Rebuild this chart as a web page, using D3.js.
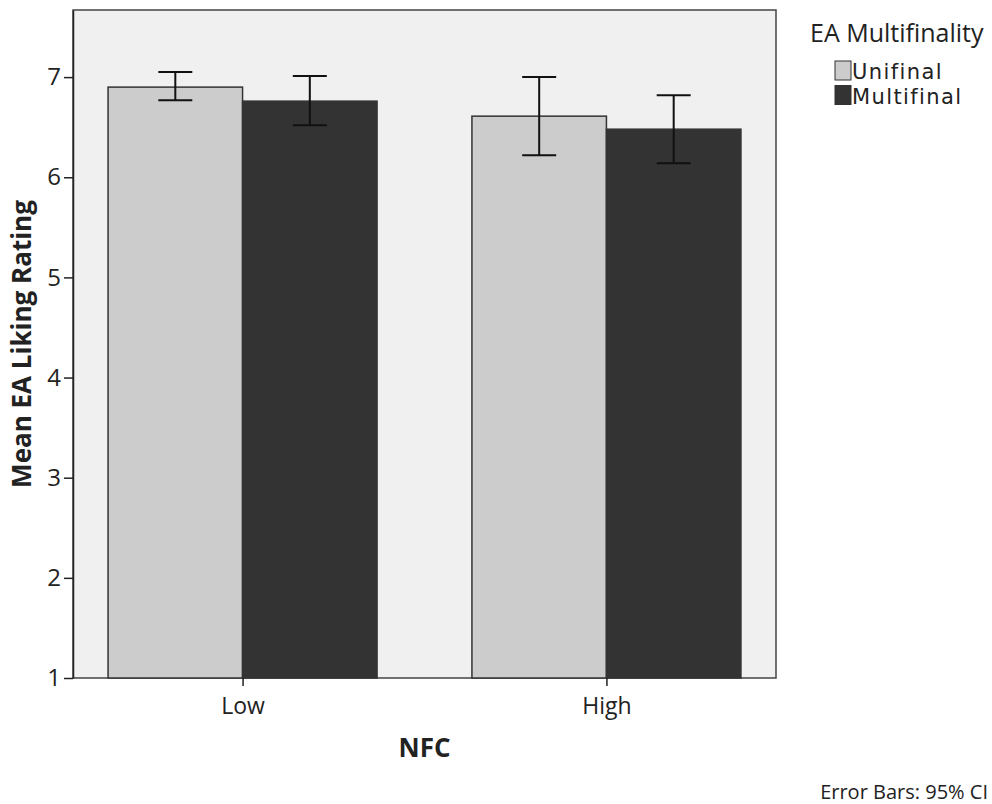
<!DOCTYPE html>
<html>
<head>
<meta charset="utf-8">
<script src="https://cdn.jsdelivr.net/npm/d3@7"></script>
<style>
  body { margin: 0; background: #fff; }
  text { font-family: "Open Sans", "DejaVu Sans", sans-serif; fill: #222; }
</style>
</head>
<body>
<svg id="chart" width="992" height="804"></svg>
<script>
'use strict';

// data
var groups = ['Low', 'High'];
var series = ['Unifinal', 'Multifinal'];
var colors = ['#cccccc', '#333333'];
var means = [[6.90, 6.76], [6.61, 6.48]];
var ciLow = [[6.77, 6.52], [6.22, 6.14]];
var ciHigh = [[7.05, 7.01], [7.00, 6.82]];
var yTicks = [1, 2, 3, 4, 5, 6, 7];

var svg = d3.select('#chart');

var plotL = 73, plotR = 776, plotT = 10, plotB = 678;

var y = d3.scaleLinear()
    .domain([1, 7.67])
    .range([plotB, plotT]);

var x = d3.scalePoint()
    .domain(groups)
    .range([plotL, plotR])
    .padding(0.466);

var barW = 134.5;

// plot background
svg.append('rect')
    .attr('x', plotL)
    .attr('y', plotT)
    .attr('width', plotR - plotL)
    .attr('height', plotB - plotT)
    .attr('fill', '#f0f0f0')
    .attr('stroke', '#444')
    .attr('stroke-width', 1.5);

// bars
var rows = [];
groups.forEach(function(g, gi) {
    series.forEach(function(s, si) {
        rows.push({ g: g, si: si, v: means[gi][si], lo: ciLow[gi][si], hi: ciHigh[gi][si] });
    });
});

svg.selectAll('rect.bar')
    .data(rows)
    .enter()
    .append('rect')
    .attr('class', 'bar')
    .attr('x', function(d) { return x(d.g) + (d.si - 1) * barW; })
    .attr('y', function(d) { return y(d.v); })
    .attr('width', barW)
    .attr('height', function(d) { return y(1) - y(d.v); })
    .attr('fill', function(d) { return colors[d.si]; })
    .attr('stroke', '#333')
    .attr('stroke-width', 1.5);

// error bars
var eb = svg.selectAll('g.err')
    .data(rows)
    .enter()
    .append('g')
    .attr('class', 'err')
    .attr('stroke', '#111')
    .attr('stroke-width', 2)
    .attr('transform', function(d) {
        return 'translate(' + (x(d.g) + (d.si - 0.5) * barW) + ',0)';
    });
eb.append('line')
    .attr('y1', function(d) { return y(d.lo); })
    .attr('y2', function(d) { return y(d.hi); });
eb.append('line')
    .attr('x1', -17).attr('x2', 17)
    .attr('y1', function(d) { return y(d.hi); })
    .attr('y2', function(d) { return y(d.hi); });
eb.append('line')
    .attr('x1', -17).attr('x2', 17)
    .attr('y1', function(d) { return y(d.lo); })
    .attr('y2', function(d) { return y(d.lo); });

// axes
var yAxis = svg.append('g')
    .attr('transform', 'translate(' + plotL + ',0)')
    .call(d3.axisLeft(y).tickValues(yTicks).tickFormat(d3.format('d'))
        .tickSize(9).tickSizeOuter(0).tickPadding(3));
yAxis.select('.domain').attr('stroke', '#222').attr('stroke-width', 1.5);
yAxis.selectAll('.tick line').attr('stroke', '#222').attr('stroke-width', 1.5);
yAxis.selectAll('.tick text').attr('font-size', 24).attr('font-family', '"Open Sans", sans-serif').attr('fill', '#222');

var xAxis = svg.append('g')
    .attr('transform', 'translate(0,' + plotB + ')')
    .call(d3.axisBottom(x).tickSize(8).tickPadding(12));
xAxis.select('.domain').remove();
xAxis.selectAll('.tick line').attr('stroke', '#222').attr('stroke-width', 1.5);
xAxis.selectAll('.tick text').attr('font-size', 23).attr('font-family', '"Open Sans", sans-serif').attr('fill', '#222');

// axis titles
svg.append('text')
    .attr('transform', 'translate(31,' + ((plotT + plotB) / 2) + ') rotate(-90)')
    .attr('text-anchor', 'middle')
    .attr('font-size', 26)
    .attr('font-weight', 'bold')
    .text('Mean EA Liking Rating');

svg.append('text')
    .attr('x', (plotL + plotR) / 2)
    .attr('y', 757)
    .attr('text-anchor', 'middle')
    .attr('font-size', 26)
    .attr('font-weight', 'bold')
    .text('NFC');

// legend
svg.append('text')
    .attr('x', 810)
    .attr('y', 42)
    .attr('font-size', 25)
    .text('EA Multifinality');

var leg = svg.selectAll('g.leg')
    .data(series)
    .enter()
    .append('g')
    .attr('class', 'leg')
    .attr('transform', function(d, i) { return 'translate(835,' + (61 + i * 24.5) + ')'; });
leg.append('rect')
    .attr('width', 16)
    .attr('height', 19)
    .attr('fill', function(d, i) { return colors[i]; })
    .attr('stroke', '#333')
    .attr('stroke-width', 1);
leg.append('text')
    .attr('x', 17)
    .attr('y', 18)
    .attr('font-size', 21)
    .attr('letter-spacing', 1.4)
    .style('font-family', '"DejaVu Sans", sans-serif')
    .text(function(d) { return d; });

svg.append('text')
    .attr('x', 988)
    .attr('y', 799)
    .attr('text-anchor', 'end')
    .attr('font-size', 20)
    .text('Error Bars: 95% CI');
</script>
</body>
</html>
